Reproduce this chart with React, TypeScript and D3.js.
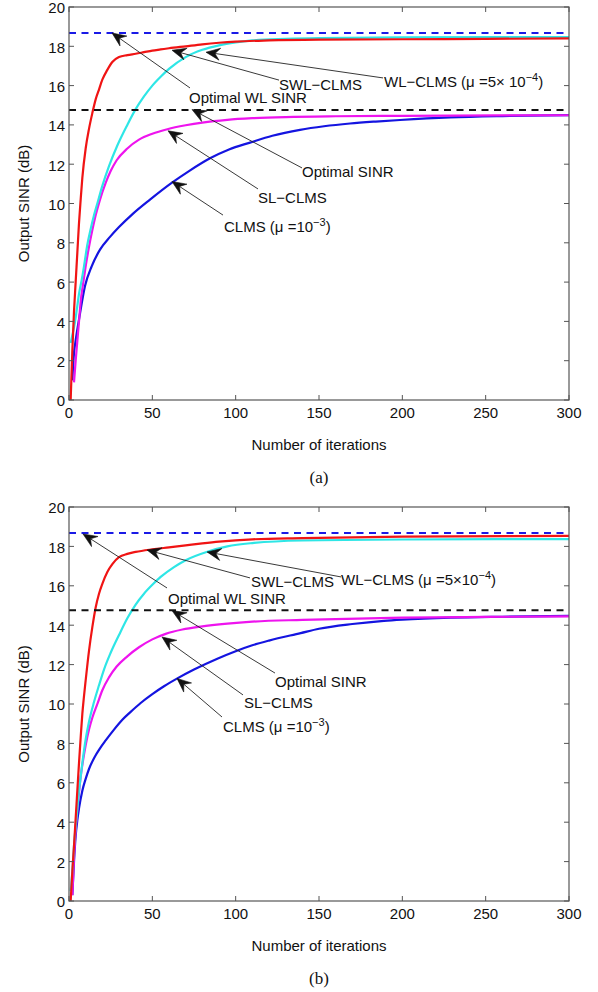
import React from "react";
import * as d3 from "d3";

// Output SINR learning curves (dB) versus iteration, two scenarios (a) and (b).
type Pt = [number, number];

const ITER_TICKS = [0, 50, 100, 150, 200, 250, 300];
const SINR_TICKS = [0, 2, 4, 6, 8, 10, 12, 14, 16, 18, 20];

const OPT_WL_SINR = 18.68;
const OPT_SINR = 14.76;

// Scenario (a)
const swlA: Pt[] = [[1,0],[2,2.5],[3,4.5],[4,6],[5,7.5],[6,9],[7,10.2],[8,11.3],[10,12.8],[12,13.8],[14,14.6],[16,15.3],[18,15.8],[20,16.3],[23,16.8],[26,17.2],[30,17.45],[35,17.55],[40,17.62],[45,17.7],[50,17.78],[55,17.84],[60,17.9],[70,18.0],[80,18.1],[90,18.18],[100,18.24],[120,18.3],[150,18.34],[200,18.36],[250,18.38],[300,18.4]];
const wlA: Pt[] = [[1,2.9],[2,3.3],[3,3.7],[4,4.2],[5,4.8],[6,5.4],[7.6,6.1],[9,6.8],[11,7.9],[13,8.7],[15,9.4],[17,10.0],[20,10.9],[24,11.9],[29,12.95],[35,14.0],[40,14.8],[45,15.45],[50,16.0],[55,16.45],[60,16.85],[70,17.45],[80,17.82],[90,18.05],[100,18.2],[110,18.3],[130,18.38],[150,18.42],[200,18.45],[300,18.47]];
const slA: Pt[] = [[3,0.9],[4,2.0],[5,3.0],[6,4.0],[7,5.0],[8.6,6.0],[10,6.8],[12,7.8],[14,8.65],[16,9.4],[18.6,10.2],[22,11.05],[25,11.65],[28.6,12.2],[35,12.8],[42,13.25],[50,13.55],[59,13.78],[70,13.98],[80,14.12],[95,14.26],[110,14.34],[130,14.4],[160,14.44],[200,14.46],[300,14.49]];
const clmsA: Pt[] = [[2,1.0],[3,2.4],[3.6,2.8],[6.6,4.4],[9.6,5.8],[13.6,6.8],[18.6,7.65],[24.6,8.3],[30,8.8],[38.6,9.5],[48.6,10.2],[61.6,11.05],[72,11.65],[84.6,12.3],[96,12.75],[108.6,13.1],[122,13.45],[138.6,13.75],[153,13.93],[168.6,14.07],[184,14.17],[198.6,14.25],[228.6,14.38],[260,14.45],[300,14.5]];

// Scenario (b)
const swlB: Pt[] = [[1,0],[2,1.5],[3,2.8],[4,4.2],[5,5.6],[6,7.0],[7,8.3],[8,9.5],[9,10.4],[10,11.2],[12,12.7],[14,13.9],[16,14.9],[18,15.6],[20,16.1],[23,16.7],[26,17.1],[30,17.45],[35,17.62],[40,17.72],[50,17.85],[60,17.95],[70,18.05],[80,18.15],[90,18.24],[110,18.36],[140,18.42],[200,18.5],[300,18.53]];
const wlB: Pt[] = [[1,0.5],[2,1.5],[3,2.8],[4,3.8],[5,4.7],[6,5.6],[7,6.3],[8,7.0],[10,8.2],[12,9.1],[15,10.1],[18,10.95],[21,11.75],[25,12.6],[30,13.5],[35,14.35],[40,15.05],[45,15.6],[50,16.05],[55,16.45],[63,16.95],[70,17.3],[83,17.73],[95,18.0],[110,18.17],[140,18.3],[200,18.35],[300,18.37]];
const slB: Pt[] = [[2,0.3],[3,2.2],[4,3.6],[5,4.6],[6,5.5],[7,6.3],[8,6.9],[10,7.9],[12,8.7],[14,9.3],[17,10.0],[20,10.7],[24,11.35],[28.6,11.9],[35,12.42],[42,12.88],[50,13.28],[58,13.56],[68,13.78],[79,13.93],[95,14.08],[110,14.18],[140,14.27],[200,14.38],[250,14.42],[300,14.45]];
const clmsB: Pt[] = [[2,0.3],[3,2.0],[4,3.3],[5,4.1],[6,4.7],[8,5.6],[10,6.2],[12,6.7],[15,7.25],[18.6,7.75],[22,8.15],[27,8.7],[32,9.2],[37,9.6],[43,10.05],[50,10.5],[57,10.9],[65,11.3],[75,11.75],[89,12.3],[100,12.68],[110,12.98],[120,13.22],[139,13.6],[150,13.82],[170,14.06],[189,14.22],[200,14.28],[229,14.38],[260,14.43],[300,14.47]];

const COLORS = { clms: "#1414e0", sl: "#ee14ee", wl: "#2ee6e6", swl: "#f01414" };

type Seg = { t: string; sup?: boolean };
type Note = { label: Seg[]; tip: Pt; tail: Pt; text: Pt };

const notesA: Note[] = [
  { label: [{ t: "Optimal WL SINR" }], tip: [25.8, 18.68], tail: [72.6, 15.88], text: [72, 15.37] },
  { label: [{ t: "SWL\u2212CLMS" }], tip: [61.8, 17.8], tail: [126, 16.28], text: [126, 16.03] },
  { label: [{ t: "WL\u2212CLMS (\u03bc =5\u00d7 10" }, { t: "\u22124", sup: true }, { t: ")" }], tip: [82.2, 17.7], tail: [188.4, 16.39], text: [189, 16.18] },
  { label: [{ t: "Optimal SINR" }], tip: [73.8, 14.78], tail: [139.8, 11.81], text: [139.8, 11.6] },
  { label: [{ t: "SL\u2212CLMS" }], tip: [59.4, 13.7], tail: [113.4, 10.74], text: [113.4, 10.28] },
  { label: [{ t: "CLMS (\u03bc =10" }, { t: "\u22123", sup: true }, { t: ")" }], tip: [61.8, 11.12], tail: [92.4, 9.41], text: [93, 8.8] },
];

const notesB: Note[] = [
  { label: [{ t: "Optimal WL SINR" }], tip: [8.4, 18.63], tail: [58.8, 15.89], text: [59.4, 15.33] },
  { label: [{ t: "SWL\u2212CLMS" }], tip: [46.8, 17.82], tail: [108.6, 16.4], text: [109.2, 16.19] },
  { label: [{ t: "WL\u2212CLMS (\u03bc =5\u00d710" }, { t: "\u22124", sup: true }, { t: ")" }], tip: [82.8, 17.72], tail: [163.2, 16.45], text: [163.2, 16.29] },
  { label: [{ t: "Optimal SINR" }], tip: [61.8, 14.74], tail: [123.6, 11.57], text: [123.6, 11.12] },
  { label: [{ t: "SL\u2212CLMS" }], tip: [55.8, 13.4], tail: [104.4, 10.46], text: [105, 10.05] },
  { label: [{ t: "CLMS (\u03bc =10" }, { t: "\u22123", sup: true }, { t: ")" }], tip: [64.8, 11.3], tail: [91.8, 9.34], text: [92.4, 8.83] },
];

const FONT = "'Liberation Sans', Arial, Helvetica, sans-serif";
const SERIF = "'Liberation Serif', 'Times New Roman', serif";

const LEFT = 69;
const RIGHT = 569;

function Arrow({ x1, y1, x2, y2 }: { x1: number; y1: number; x2: number; y2: number }) {
  const ang = Math.atan2(y2 - y1, x2 - x1);
  const L = 14, H = 6, N = 9;
  const c = Math.cos(ang), s = Math.sin(ang);
  const pt = (a: number, b: number) => [x2 + a * c - b * s, y2 + a * s + b * c];
  const p1 = pt(-L, H), p2 = pt(-N, 0), p3 = pt(-L, -H);
  const d = `M${x2},${y2}L${p1[0]},${p1[1]}L${p2[0]},${p2[1]}L${p3[0]},${p3[1]}Z`;
  const lineEnd = pt(-N, 0);
  return (
    <g>
      <line x1={x1} y1={y1} x2={lineEnd[0]} y2={lineEnd[1]} stroke="#222" strokeWidth={0.9} />
      <path d={d} fill="#111" stroke="#111" strokeWidth={0.6} strokeLinejoin="miter" />
    </g>
  );
}

function Label({ segs, x, y }: { segs: Seg[]; x: number; y: number }) {
  const parts: React.ReactNode[] = [];
  let shifted = false;
  segs.forEach((s, i) => {
    if (s.sup) {
      parts.push(<tspan key={i} dy={-6} fontSize={11}>{s.t}</tspan>);
      shifted = true;
    } else {
      parts.push(<tspan key={i} dy={shifted ? 6 : 0}>{s.t}</tspan>);
      shifted = false;
    }
  });
  return (
    <text x={x} y={y} fontFamily={FONT} fontSize={15} fill="#111">{parts}</text>
  );
}

function Panel({ top, bottom, series, notes, caption, id }: {
  top: number; bottom: number; series: { data: Pt[]; color: string }[]; notes: Note[]; caption: string; id: string;
}) {
  const x = d3.scaleLinear().domain([0, 300]).range([LEFT, RIGHT]);
  const y = d3.scaleLinear().domain([0, 20]).range([bottom, top]);
  const line = d3.line<Pt>().x((d) => x(d[0])).y((d) => y(d[1])).curve(d3.curveMonotoneX);
  const axisColor = "#555";
  const tick = 5;
  return (
    <g>
      <defs>
        <clipPath id={`clip-${id}`}>
          <rect x={LEFT} y={top} width={RIGHT - LEFT} height={bottom - top} />
        </clipPath>
      </defs>
      <g clipPath={`url(#clip-${id})`}>
        {series.map((s, i) => (
          <path key={i} d={line(s.data) || ""} fill="none" stroke={s.color} strokeWidth={2.2} strokeLinejoin="round" />
        ))}
        <line x1={x(0)} x2={x(300)} y1={y(OPT_WL_SINR)} y2={y(OPT_WL_SINR)} stroke="#1a1ae6" strokeWidth={2} strokeDasharray="7,5.5" />
        <line x1={x(0)} x2={x(300)} y1={y(OPT_SINR)} y2={y(OPT_SINR)} stroke="#111" strokeWidth={2} strokeDasharray="7,5.5" />
      </g>
      {/* frame and inward ticks */}
      <rect x={LEFT} y={top} width={RIGHT - LEFT} height={bottom - top} fill="none" stroke={axisColor} strokeWidth={1.2} />
      {ITER_TICKS.map((t) => (
        <g key={`xt${t}`}>
          <line x1={x(t)} x2={x(t)} y1={bottom} y2={bottom - tick} stroke={axisColor} />
          <line x1={x(t)} x2={x(t)} y1={top} y2={top + tick} stroke={axisColor} />
          <text x={x(t)} y={bottom + 18} textAnchor="middle" fontFamily={FONT} fontSize={15} fill="#111">{t}</text>
        </g>
      ))}
      {SINR_TICKS.map((t) => (
        <g key={`yt${t}`}>
          <line x1={LEFT} x2={LEFT + tick} y1={y(t)} y2={y(t)} stroke={axisColor} />
          <line x1={RIGHT} x2={RIGHT - tick} y1={y(t)} y2={y(t)} stroke={axisColor} />
          <text x={LEFT - 4} y={y(t) + 6.4} textAnchor="end" fontFamily={FONT} fontSize={15} fill="#111">{t}</text>
        </g>
      ))}
      {notes.map((n, i) => (
        <g key={`n${i}`}>
          <Arrow x1={x(n.tail[0])} y1={y(n.tail[1])} x2={x(n.tip[0])} y2={y(n.tip[1])} />
          <Label segs={n.label} x={x(n.text[0])} y={y(n.text[1]) + 5} />
        </g>
      ))}
      <text
        transform={`translate(23,${(top + bottom) / 2}) rotate(-90)`}
        textAnchor="middle" dominantBaseline="central" fontFamily={FONT} fontSize={15} fill="#111"
      >Output SINR (dB)</text>
      <text x={(LEFT + RIGHT) / 2} y={bottom + 50} textAnchor="middle" fontFamily={FONT} fontSize={15} fill="#111">Number of iterations</text>
      <text x={(LEFT + RIGHT) / 2} y={bottom + 83} textAnchor="middle" fontFamily={SERIF} fontSize={17} fill="#111">{caption}</text>
    </g>
  );
}

export default function App() {
  const seriesA = [
    { data: clmsA, color: COLORS.clms },
    { data: slA, color: COLORS.sl },
    { data: wlA, color: COLORS.wl },
    { data: swlA, color: COLORS.swl },
  ];
  const seriesB = [
    { data: clmsB, color: COLORS.clms },
    { data: slB, color: COLORS.sl },
    { data: wlB, color: COLORS.wl },
    { data: swlB, color: COLORS.swl },
  ];
  return (
    <svg width={598} height={992} style={{ position: "absolute", left: 0, top: 0, background: "#fff" }}>
      <rect width={598} height={992} fill="#fff" />
      <Panel id="a" top={7} bottom={400} series={seriesA} notes={notesA} caption="(a)" />
      <Panel id="b" top={507} bottom={901} series={seriesB} notes={notesB} caption="(b)" />
    </svg>
  );
}
